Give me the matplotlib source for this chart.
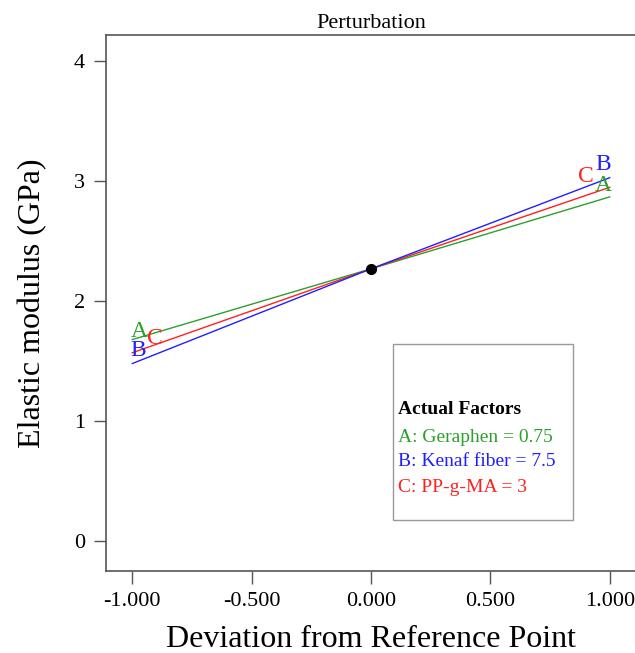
import numpy as np
import matplotlib.pyplot as plt

plt.rcParams['font.family'] = ['Liberation Serif', 'DejaVu Serif']

# deviation from reference point
dev = [-1.0, 0.0, 1.0]
# elastic modulus (GPa) for each factor
mod_A = [1.68, 2.27, 2.87]   # Geraphen
mod_B = [1.48, 2.27, 3.03]   # Kenaf fiber
mod_C = [1.57, 2.27, 2.95]   # PP-g-MA
ref_pt = [0.0, 2.27]

xticks = [-1.0, -0.5, 0.0, 0.5, 1.0]
yticks = [0, 1, 2, 3, 4]

green = '#2ca02c'
blue = '#1f1fff'
red = '#ff2020'

fig = plt.figure(figsize=(6.35, 6.53), dpi=100)
ax = fig.add_axes([106/635, 1-571/653, 530/635, (571-35)/653])

ax.plot(dev, mod_A, color=green, lw=1)
ax.plot(dev, mod_C, color=red, lw=1)
ax.plot(dev, mod_B, color=blue, lw=1)
ax.plot(ref_pt[0], ref_pt[1], 'o', color='black', ms=7, zorder=5)

# factor letters at the line ends
fs = 17
kw = dict(fontsize=fs, ha='center', va='baseline')
ax.text(dev[0] + 0.028, mod_A[0] + 0.025, 'A', color=green, **kw)
ax.text(dev[0] + 0.023, mod_B[0] + 0.065, 'B', color=blue, **kw)
ax.text(dev[0] + 0.095, mod_C[0] + 0.075, 'C', color=red, **kw)
ax.text(dev[2] - 0.027, mod_B[2] + 0.06, 'B', color=blue, **kw)
ax.text(dev[2] - 0.1, mod_C[2] + 0.04, 'C', color=red, **kw)
ax.text(dev[2] - 0.029, mod_A[2] + 0.05, 'A', color=green, **kw)

ax.set_xlim(-1.11, 1.11)
ax.set_ylim(-0.25, 4.22)
ax.set_xticks(xticks)
ax.set_xticklabels(['%.3f' % v for v in xticks])
ax.set_yticks(yticks)
ax.tick_params(direction='out', length=9, width=1, color='#555555', labelsize=16, pad=6)
for s in ax.spines.values():
    s.set_color('#555555')
    s.set_linewidth(1.2)

ax.set_title('Perturbation', fontsize=16, pad=5)
ax.set_xlabel('Deviation from Reference Point', fontsize=23, labelpad=10)
ax.set_ylabel('Elastic modulus (GPa)', fontsize=23, labelpad=19)

# legend-like box of actual factors
box = plt.Rectangle((393/635, 1-520/653), 180/635, 176/653, transform=fig.transFigure,
                    fill=False, edgecolor='#999999', lw=1)
fig.add_artist(box)
fig.text(398/635, 1-410/653, 'Actual Factors', fontsize=14, fontweight='bold', va='center')
fig.text(398/635, 1-437/653, 'A: Geraphen = 0.75', fontsize=14, color=green, va='center')
fig.text(398/635, 1-462/653, 'B: Kenaf fiber = 7.5', fontsize=14, color=blue, va='center')
fig.text(398/635, 1-487/653, 'C: PP-g-MA = 3', fontsize=14, color=red, va='center')

fig.savefig('out.png', dpi=100)
